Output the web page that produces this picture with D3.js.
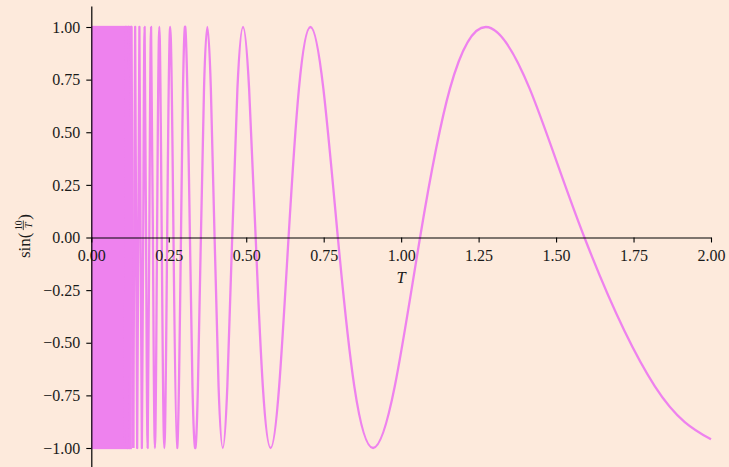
<!DOCTYPE html>
<html>
<head>
<meta charset="utf-8">
<script src="https://cdn.jsdelivr.net/npm/d3@7"></script>
<style>
  html, body { margin: 0; padding: 0; background: #fdeadc; }
  svg { display: block; }
</style>
</head>
<body>
<svg id="chart" width="729" height="467"></svg>
<script>
// ---- data ----
// dense, visually solid band of oscillation near T = 0
const denseBandT = [0.0, 0.131];
const denseBandY = [-1, 1];

// tight zig-zag between the extremes just after the solid band
const zigT = [0.10790, 0.11169, 0.11575, 0.12012, 0.12483, 0.12992, 0.13545];
const zigY = [-1, 1, -1, 1, -1, 1, -1];

// sample points of the smooth part of the curve (T, value), ascending in T
const curveT = [
  0.13545, 0.13840, 0.14147, 0.14469, 0.14805, 0.15158, 0.15527, 0.15915,
  0.16324, 0.16753, 0.17206, 0.17684, 0.18189, 0.18724, 0.19291, 0.19894,
  0.20536, 0.21221, 0.21953, 0.22736, 0.23579, 0.24485, 0.25465, 0.26526,
  0.27679, 0.28937, 0.30315, 0.31831, 0.32647, 0.33506, 0.34412, 0.35368,
  0.36378, 0.37448, 0.38583, 0.39789, 0.41072, 0.42441, 0.43905, 0.45473,
  0.47157, 0.48971, 0.50930, 0.53052, 0.55359, 0.57875, 0.60630, 0.63662,
  0.67012, 0.70736, 0.74896, 0.79577, 0.84883, 0.90946, 0.97942, 1.06103,
  1.15749, 1.27324, 1.41471, 1.59155, 1.81891, 2.00000
];
const curveY = [
  -1, 0, 1, 0, -1, 0, 1, 0,
  -1, 0, 1, 0, -1, 0, 1, 0,
  -1, 0, 1, 0, -1, 0, 1, 0,
  -1, 0, 1, 0, -0.707, -1, -0.707, 0,
  0.707, 1, 0.707, 0, -0.707, -1, -0.707, 0,
  0.707, 1, 0.707, 0, -0.707, -1, -0.707, 0,
  0.707, 1, 0.707, 0, -0.707, -1, -0.707, 0,
  0.707, 1, 0.707, 0, -0.707, -0.959
];

const xTickValues = [0, 0.25, 0.5, 0.75, 1.0, 1.25, 1.5, 1.75, 2.0];
const xTickLabels = ["0.00", "0.25", "0.50", "0.75", "1.00", "1.25", "1.50", "1.75", "2.00"];
const yTickValues = [-1, -0.75, -0.5, -0.25, 0, 0.25, 0.5, 0.75, 1];
const yTickLabels = ["\u22121.00", "\u22120.75", "\u22120.50", "\u22120.25", "0.00", "0.25", "0.50", "0.75", "1.00"];

const xDomain = [0, 2];
const yDomain = [-1.1, 1.1];

// ---- drawing ----
const svg = d3.select("#chart");
const FONT = "'Liberation Serif', 'DejaVu Serif', serif";
const LINE_COLOR = "#ee82ee";
const TEXT_COLOR = "#1a1a1a";
const LW = 2.3;

svg.append("rect").attr("width", 729).attr("height", 467).attr("fill", "#fdeadc");

const x = d3.scaleLinear().domain(xDomain).range([91.3, 711]);
const y = d3.scaleLinear().domain(yDomain).range([469.05, 5.95]);

// dense band
svg.append("rect")
  .attr("x", x(denseBandT[0]))
  .attr("width", x(denseBandT[1]) - x(denseBandT[0]))
  .attr("y", y(denseBandY[1]) - LW / 2)
  .attr("height", y(denseBandY[0]) - y(denseBandY[1]) + LW)
  .attr("fill", LINE_COLOR);

const zigLine = d3.line()
  .x(d => x(d[0]))
  .y(d => y(d[1]));

svg.append("path")
  .datum(zigT.map((t, i) => [t, zigY[i]]))
  .attr("d", zigLine)
  .attr("fill", "none")
  .attr("stroke", LINE_COLOR)
  .attr("stroke-width", LW)
  .attr("stroke-linejoin", "round");

const smoothLine = d3.line()
  .x(d => x(d[0]))
  .y(d => y(d[1]))
  .curve(d3.curveNatural);

svg.append("path")
  .datum(curveT.map((t, i) => [t, curveY[i]]))
  .attr("d", smoothLine)
  .attr("fill", "none")
  .attr("stroke", LINE_COLOR)
  .attr("stroke-width", LW)
  .attr("stroke-linejoin", "round");

// axes (drawn above the curve)
const xAxis = d3.axisBottom(x)
  .tickValues(xTickValues)
  .tickFormat((d, i) => xTickLabels[i])
  .tickSize(5)
  .tickSizeOuter(0)
  .tickPadding(7);

const gx = svg.append("g")
  .attr("transform", `translate(0,${y(0)})`)
  .call(xAxis);

const yAxis = d3.axisLeft(y)
  .tickValues(yTickValues)
  .tickFormat((d, i) => yTickLabels[i])
  .tickSize(5)
  .tickSizeOuter(0)
  .tickPadding(6);

const gy = svg.append("g")
  .attr("transform", `translate(${x(0)},0)`)
  .call(yAxis);

[gx, gy].forEach(g => {
  g.select(".domain").attr("stroke", "#000").attr("stroke-width", 1.2);
  g.selectAll(".tick line").attr("stroke", "#000").attr("stroke-width", 1.1);
  g.selectAll(".tick text")
    .attr("fill", TEXT_COLOR)
    .style("font-family", FONT)
    .style("font-size", "16px");
});

// x label
svg.append("text")
  .attr("x", (x(xDomain[0]) + x(xDomain[1])) / 2)
  .attr("y", 283)
  .attr("text-anchor", "middle")
  .attr("fill", TEXT_COLOR)
  .style("font-family", FONT)
  .style("font-style", "italic")
  .style("font-size", "16.5px")
  .text("T");

// y label: sin(10/T), rotated
const yl = svg.append("g").attr("transform", "translate(29.5,258) rotate(-90)");
yl.append("text")
  .attr("x", 0).attr("y", 0)
  .attr("fill", TEXT_COLOR)
  .style("font-family", FONT)
  .style("font-size", "17px")
  .text("sin(");
yl.append("text")
  .attr("x", 32.7).attr("y", -7.6)
  .attr("text-anchor", "middle")
  .attr("fill", TEXT_COLOR)
  .style("font-family", FONT)
  .style("font-size", "9.5px")
  .text("10");
yl.append("line")
  .attr("x1", 27.9).attr("x2", 37.5)
  .attr("y1", -6.2).attr("y2", -6.2)
  .attr("stroke", TEXT_COLOR)
  .attr("stroke-width", 0.8);
yl.append("text")
  .attr("x", 32.7).attr("y", 2.2)
  .attr("text-anchor", "middle")
  .attr("fill", TEXT_COLOR)
  .style("font-family", FONT)
  .style("font-style", "italic")
  .style("font-size", "10.5px")
  .text("T");
yl.append("text")
  .attr("x", 38.3).attr("y", 0)
  .attr("fill", TEXT_COLOR)
  .style("font-family", FONT)
  .style("font-size", "17px")
  .text(")");
</script>
</body>
</html>
